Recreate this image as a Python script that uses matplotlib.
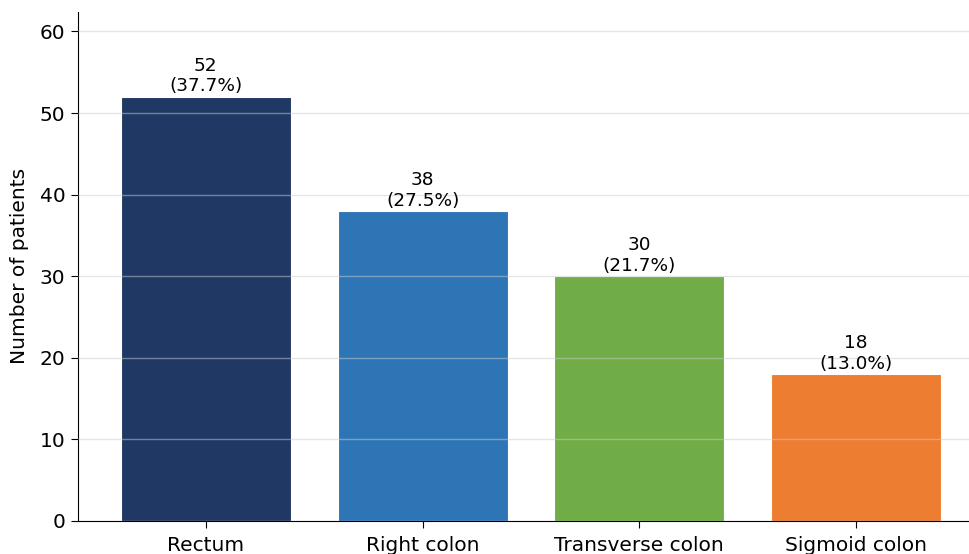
import numpy as np
import matplotlib.pyplot as plt

# tumour location counts
sites = ['Rectum', 'Right colon', 'Transverse colon', 'Sigmoid colon']
patients = [52, 38, 30, 18]
colors = ['#1f3864', '#2e75b6', '#70ad47', '#ed7d31']

total = sum(patients)
pct = [100 * n / total for n in patients]

fig = plt.figure(figsize=(9.7, 5.54), dpi=100)
ax = fig.add_axes([0.0804, 0.0596, 0.934, 0.919])

x = np.arange(len(sites))
bars = ax.bar(x, patients, width=0.785, color=colors, edgecolor='white', linewidth=0.8)

for b, n, p in zip(bars, patients, pct):
    ax.annotate(f'{n}\n({p:.1f}%)', (b.get_x() + b.get_width() / 2, b.get_height()),
                xytext=(0, 1), textcoords='offset points',
                ha='center', va='bottom', fontsize=13.3)

ax.set_xticks(x)
ax.set_xticklabels(sites, fontsize=14.5)
ax.set_xlim(-0.59, 3.59)
ax.set_ylim(0, 62.4)
ax.set_yticks(range(0, 61, 10))
ax.tick_params(axis='y', labelsize=14.5, length=5, pad=4)
ax.tick_params(axis='x', length=5, pad=6)
ax.set_ylabel('Number of patients', fontsize=14.5, labelpad=8)

ax.grid(axis='y', color='#cccccc', alpha=0.5, linewidth=1)
ax.set_axisbelow(False)
ax.spines['top'].set_visible(False)
ax.spines['right'].set_visible(False)

fig.savefig('out.png', dpi=100)
